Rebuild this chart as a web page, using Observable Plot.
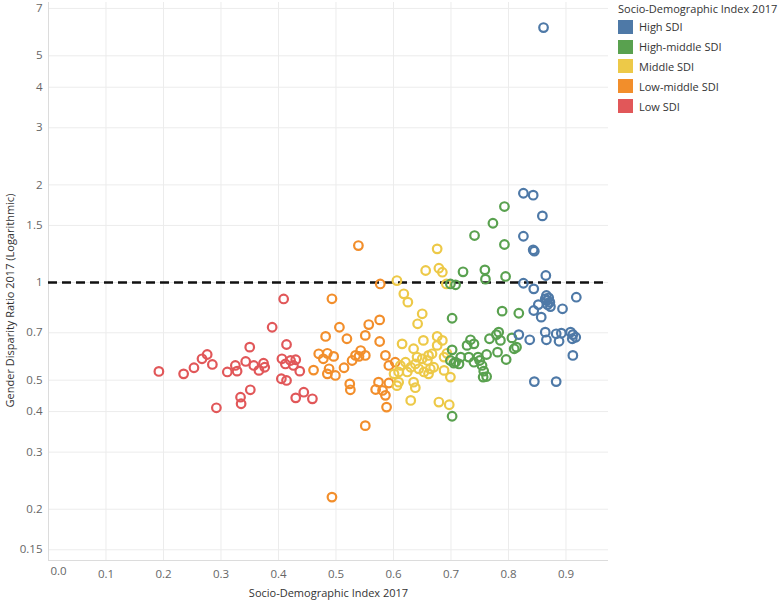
<!DOCTYPE html>
<html><head><meta charset="utf-8">
<script src="https://cdn.jsdelivr.net/npm/d3@7"></script>
<script src="https://cdn.jsdelivr.net/npm/@observablehq/plot@0.6"></script>
<style>
body{margin:0;background:#fff;font-family:"Open Sans",sans-serif;}
#wrap{position:relative;width:780px;height:603px;overflow:hidden;}
#chart{position:absolute;left:0;top:0;}
#legend{position:absolute;left:618px;top:0px;color:#333;font-size:11px;}
#legend .ttl{height:17px;line-height:17px;white-space:nowrap;}
#legend .row{display:flex;align-items:center;height:19.8px;white-space:nowrap;}
#legend .sw{width:15px;height:14px;margin-right:6px;}
</style></head><body>
<div id="wrap"><div id="chart"></div><div id="legend"></div></div>
<script>
// Series: [Socio-Demographic Index 2017, Gender Disparity Ratio 2017]
const lowSDI = [[0.192,0.532],[0.235,0.523],[0.253,0.546],[0.267,0.582],[0.276,0.600],[0.285,0.559],[0.292,0.411],[0.311,0.530],[0.325,0.555],[0.328,0.533],[0.334,0.443],[0.335,0.423],[0.343,0.571],[0.350,0.632],[0.351,0.467],[0.357,0.555],[0.366,0.536],[0.374,0.564],[0.376,0.548],[0.389,0.728],[0.409,0.890],[0.406,0.582],[0.405,0.505],[0.414,0.499],[0.414,0.644],[0.412,0.561],[0.421,0.575],[0.426,0.555],[0.430,0.578],[0.437,0.533],[0.430,0.441],[0.444,0.459],[0.459,0.438]];
const lowMiddleSDI = [[0.461,0.537],[0.539,1.30],[0.577,0.99],[0.493,0.891],[0.576,0.767],[0.557,0.742],[0.506,0.728],[0.551,0.687],[0.482,0.682],[0.519,0.671],[0.576,0.658],[0.470,0.603],[0.485,0.605],[0.496,0.592],[0.478,0.582],[0.488,0.542],[0.485,0.523],[0.499,0.517],[0.514,0.546],[0.528,0.575],[0.534,0.596],[0.543,0.617],[0.551,0.596],[0.540,0.592],[0.524,0.487],[0.525,0.467],[0.586,0.596],[0.592,0.555],[0.603,0.568],[0.574,0.493],[0.569,0.468],[0.581,0.465],[0.586,0.449],[0.592,0.490],[0.588,0.413],[0.551,0.362],[0.493,0.218]];
const middleSDI = [[0.676,1.27],[0.656,1.089],[0.679,1.107],[0.685,1.076],[0.606,1.014],[0.692,0.99],[0.618,0.923],[0.625,0.87],[0.650,0.801],[0.642,0.746],[0.676,0.682],[0.685,0.663],[0.652,0.663],[0.615,0.647],[0.635,0.625],[0.676,0.640],[0.661,0.596],[0.667,0.603],[0.659,0.575],[0.650,0.582],[0.641,0.589],[0.621,0.568],[0.630,0.548],[0.638,0.561],[0.612,0.555],[0.609,0.530],[0.624,0.530],[0.644,0.542],[0.653,0.530],[0.661,0.523],[0.664,0.542],[0.670,0.548],[0.688,0.589],[0.693,0.605],[0.609,0.493],[0.606,0.481],[0.635,0.493],[0.638,0.474],[0.630,0.433],[0.699,0.511],[0.688,0.536],[0.679,0.428],[0.697,0.420],[0.601,0.523]];
const highMiddleSDI = [[0.793,1.715],[0.773,1.523],[0.741,1.396],[0.793,1.31],[0.721,1.079],[0.759,1.094],[0.760,1.024],[0.795,1.044],[0.699,0.99],[0.708,0.984],[0.702,0.776],[0.789,0.816],[0.818,0.804],[0.783,0.703],[0.779,0.691],[0.806,0.675],[0.767,0.671],[0.734,0.666],[0.740,0.647],[0.728,0.640],[0.786,0.663],[0.814,0.632],[0.810,0.625],[0.702,0.620],[0.781,0.610],[0.762,0.600],[0.717,0.589],[0.708,0.568],[0.714,0.561],[0.705,0.564],[0.699,0.575],[0.731,0.589],[0.740,0.568],[0.750,0.575],[0.754,0.555],[0.747,0.589],[0.796,0.579],[0.757,0.533],[0.756,0.511],[0.762,0.513],[0.702,0.387]];
const highSDI = [[0.826,1.885],[0.843,1.859],[0.859,1.605],[0.826,1.389],[0.843,1.261],[0.845,1.249],[0.865,1.051],[0.826,0.995],[0.844,0.956],[0.918,0.901],[0.866,0.912],[0.870,0.897],[0.867,0.880],[0.872,0.870],[0.864,0.891],[0.868,0.855],[0.873,0.843],[0.852,0.855],[0.894,0.830],[0.844,0.820],[0.857,0.782],[0.818,0.691],[0.837,0.666],[0.864,0.703],[0.866,0.666],[0.883,0.695],[0.888,0.659],[0.892,0.698],[0.908,0.703],[0.912,0.691],[0.917,0.678],[0.911,0.671],[0.912,0.596],[0.845,0.495],[0.883,0.495],[0.861,6.11]];

const groupNames = ["High SDI","High-middle SDI","Middle SDI","Low-middle SDI","Low SDI"];
const groupColors = ["#4e79a7","#59a14f","#edc948","#f28e2b","#e15759"];
const xTicks = [0,0.1,0.2,0.3,0.4,0.5,0.6,0.7,0.8,0.9];
const yTicks = [0.15,0.2,0.3,0.4,0.5,0.7,1,1.5,2,3,4,5,7];
const xTitle = "Socio-Demographic Index 2017";
const yTitle = "Gender Disparity Ratio 2017 (Logarithmic)";
const legendTitle = "Socio-Demographic Index 2017";

const drawOrder = [["Low SDI",lowSDI],["Low-middle SDI",lowMiddleSDI],["Middle SDI",middleSDI],["High-middle SDI",highMiddleSDI],["High SDI",highSDI]];
const rows = drawOrder.flatMap(([g, pts]) => pts.map(([sdi, ratio]) => ({group: g, sdi, ratio})));

const chart = Plot.plot({
  width: 612, height: 603,
  marginLeft: 48, marginRight: 4, marginTop: 2, marginBottom: 43,
  style: {fontFamily: "'Open Sans', sans-serif", fontSize: "11.5px", color: "#666", background: "#fff"},
  x: {domain: [0, 0.974]},
  y: {type: "log", domain: [0.139, 7.3]},
  color: {domain: groupNames, range: groupColors},
  marks: [
    Plot.gridX(xTicks, {stroke: "#ececec", strokeOpacity: 1}),
    Plot.gridY(yTicks, {stroke: "#ececec", strokeOpacity: 1}),
    Plot.ruleX([0], {stroke: "#dcdcdc"}),
    Plot.ruleY([0.139], {stroke: "#dcdcdc"}),
    Plot.axisX(xTicks.filter(d => d > 0), {tickSize: 0, tickPadding: 9, tickFormat: d3.format(".1f"), label: null}),
    Plot.text([0], {x: d => d, frameAnchor: "bottom", dy: 14, dx: 10, text: d => d3.format(".1f")(d), fill: "#666"}),
    Plot.axisY(yTicks, {tickSize: 0, tickPadding: 6, tickFormat: d => String(d), label: null}),
    Plot.text([xTitle], {frameAnchor: "bottom", dy: 36, fill: "#333", fontSize: 11}),
    Plot.text([yTitle], {frameAnchor: "left", textAnchor: "middle", rotate: -90, dx: -38, dy: 19, fill: "#333", fontSize: 11}),
    Plot.ruleY([1], {stroke: "#111", strokeWidth: 2.5, strokeDasharray: "9,5"}),
    Plot.dot(rows, {x: "sdi", y: "ratio", stroke: "group", r: 4.3, strokeWidth: 2.2, fill: "none"})
  ]
});
document.getElementById("chart").appendChild(chart);

const legend = document.getElementById("legend");
const t = document.createElement("div"); t.className = "ttl"; t.textContent = legendTitle; legend.appendChild(t);
groupNames.forEach((g, i) => {
  const r = document.createElement("div"); r.className = "row";
  const s = document.createElement("div"); s.className = "sw"; s.style.background = groupColors[i];
  const l = document.createElement("span"); l.textContent = g;
  r.appendChild(s); r.appendChild(l); legend.appendChild(r);
});
</script>
</body></html>
